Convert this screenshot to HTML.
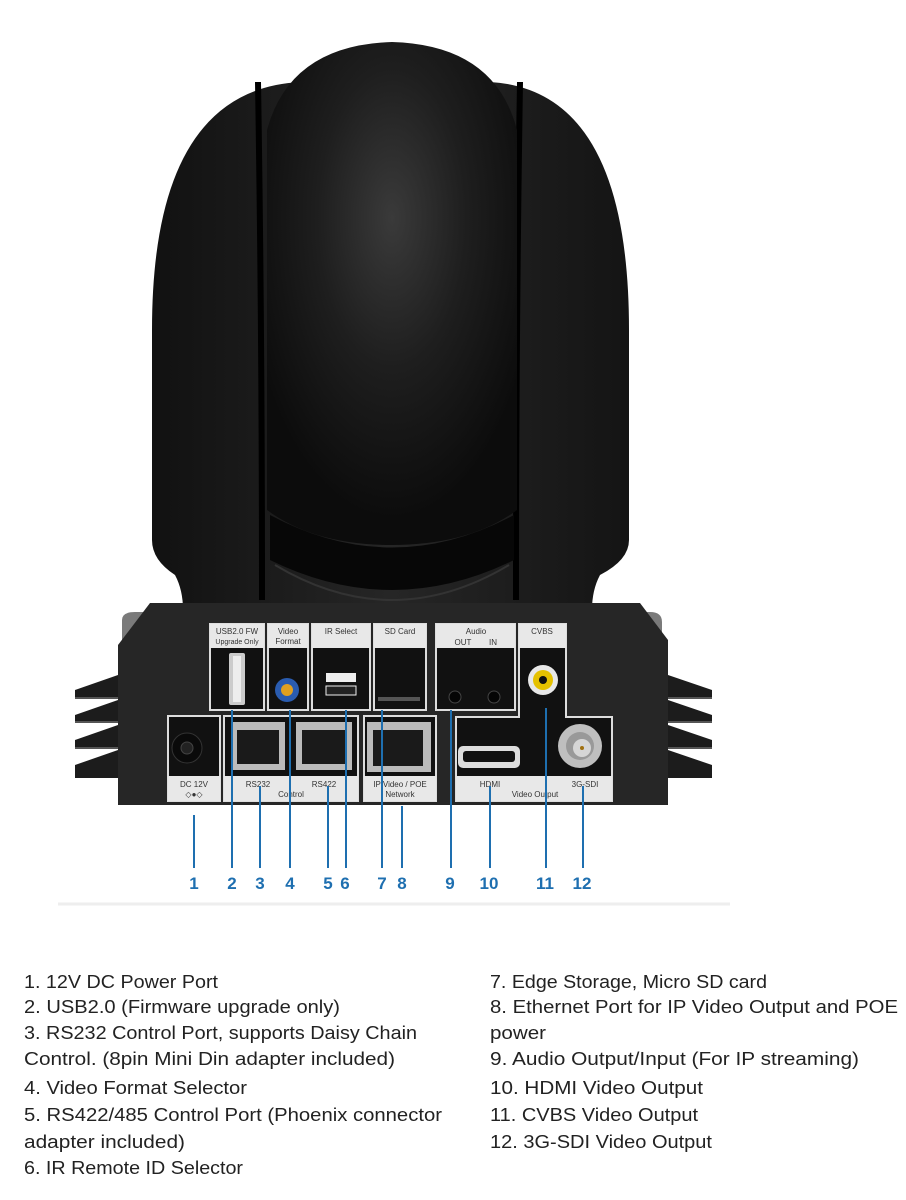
<!DOCTYPE html>
<html><head><meta charset="utf-8"><style>
html,body{margin:0;padding:0;background:#fff;width:906px;height:1200px;overflow:hidden}
svg{display:block}
.t{font-family:"Liberation Sans",sans-serif;font-size:18px;fill:#222}
.n{font-family:"Liberation Sans",sans-serif;font-size:17px;font-weight:bold;fill:#1e6fb0}
.l{font-family:"Liberation Sans",sans-serif;font-size:8px;fill:#333}
</style></head><body>
<svg width="906" height="1200" viewBox="0 0 906 1200">
<defs>
<radialGradient id="ball" cx="0.5" cy="0.35" r="0.6">
<stop offset="0" stop-color="#3a3a3a"/><stop offset="0.5" stop-color="#1e1e1e"/><stop offset="1" stop-color="#0c0c0c"/>
</radialGradient>
<linearGradient id="side" x1="0" x2="1" y1="0" y2="0">
<stop offset="0" stop-color="#111"/><stop offset="0.5" stop-color="#262626"/><stop offset="1" stop-color="#141414"/>
</linearGradient>
</defs>
<!-- camera body -->
<path d="M152 330 Q152 90 300 82 L490 82 Q629 90 629 330 L629 540 Q629 560 600 575 Q592 590 592 610 L183 610 Q183 590 175 575 Q152 560 152 540 Z" fill="url(#side)"/>
<!-- side arm grooves -->
<path d="M258 82 Q262 330 262 600" stroke="#000" stroke-width="6" fill="none"/>
<path d="M520 82 Q516 330 516 600" stroke="#000" stroke-width="6" fill="none"/>
<!-- center ball -->
<path d="M267 130 Q290 45 392 42 Q495 45 517 130 L517 510 Q470 545 392 545 Q314 545 267 510 Z" fill="url(#ball)"/>
<path d="M270 515 Q392 580 514 515 L514 560 Q392 620 270 560 Z" fill="#070707"/>
<path d="M275 565 Q392 635 509 565" stroke="#333" stroke-width="2" fill="none"/>
<!-- gray back layer -->
<path d="M122 670 L122 620 Q122 612 135 612 L180 612 L180 670 Z" fill="#7a7a7a"/>
<path d="M600 612 L650 612 Q662 612 662 622 L662 670 L600 670 Z" fill="#7a7a7a"/>
<!-- fins -->
<g fill="#1c1c1c">
<path d="M75 690 L118 675 L118 698 L75 698 Z"/><path d="M75 715 L118 700 L118 722 L75 722 Z"/>
<path d="M75 740 L118 725 L118 748 L75 748 Z"/><path d="M75 765 L118 750 L118 778 L75 778 Z"/>
<path d="M712 690 L668 675 L668 698 L712 698 Z"/><path d="M712 715 L668 700 L668 722 L712 722 Z"/>
<path d="M712 740 L668 725 L668 748 L712 748 Z"/><path d="M712 765 L668 750 L668 778 L712 778 Z"/>
</g>
<g stroke="#555" stroke-width="2"><line x1="75" y1="698" x2="118" y2="698"/><line x1="75" y1="722" x2="118" y2="722"/><line x1="75" y1="748" x2="118" y2="748"/>
<line x1="668" y1="698" x2="712" y2="698"/><line x1="668" y1="722" x2="712" y2="722"/><line x1="668" y1="748" x2="712" y2="748"/></g>
<!-- panel -->
<path d="M150 603 L640 603 L668 640 L668 805 L118 805 L118 645 Z" fill="#262626"/>
<!-- upper row boxes -->
<g fill="#111" stroke="#ddd" stroke-width="2">
<rect x="210" y="624" width="54" height="86"/><rect x="268" y="624" width="40" height="86"/>
<rect x="312" y="624" width="58" height="86"/><rect x="374" y="624" width="52" height="86"/>
<rect x="436" y="624" width="79" height="86"/>
<path d="M519 624 L566 624 L566 717 L612 717 L612 801 L456 801 L456 717 L519 717 Z"/>
<rect x="168" y="716" width="52" height="85"/><rect x="224" y="716" width="134" height="85"/>
<rect x="364" y="716" width="72" height="85"/>
</g>
<g fill="#e8e8e8">
<rect x="210" y="624" width="54" height="24"/><rect x="268" y="624" width="40" height="24"/>
<rect x="312" y="624" width="58" height="24"/><rect x="374" y="624" width="52" height="24"/>
<rect x="436" y="624" width="79" height="24"/><rect x="519" y="624" width="47" height="24"/>
<rect x="168" y="776" width="52" height="25"/><rect x="224" y="776" width="134" height="25"/>
<rect x="364" y="776" width="72" height="25"/><rect x="456" y="776" width="156" height="25"/>
</g>
<g class="l" text-anchor="middle">
<text x="237" y="634">USB2.0 FW</text><text x="237" y="644" font-size="7">Upgrade Only</text>
<text x="288" y="634">Video</text><text x="288" y="644">Format</text>
<text x="341" y="634">IR Select</text><text x="400" y="634">SD Card</text>
<text x="476" y="634">Audio</text><text x="463" y="645">OUT</text><text x="493" y="645">IN</text>
<text x="542" y="634">CVBS</text>
<text x="194" y="787">DC 12V</text><text x="194" y="797">◇●◇</text>
<text x="258" y="787">RS232</text><text x="324" y="787">RS422</text><text x="291" y="797">Control</text>
<text x="400" y="787">IP Video / POE</text><text x="400" y="797">Network</text>
<text x="490" y="787">HDMI</text><text x="585" y="787">3G-SDI</text><text x="535" y="797">Video Output</text>
</g>
<!-- ports -->
<rect x="229" y="653" width="16" height="52" fill="#ccc" rx="2"/><rect x="233" y="656" width="8" height="46" fill="#eee"/>
<circle cx="287" cy="690" r="12" fill="#2a5cb0"/><circle cx="287" cy="690" r="6" fill="#e0a020"/>
<rect x="326" y="673" width="30" height="9" fill="#eee"/><rect x="326" y="686" width="30" height="9" fill="#222" stroke="#eee"/>
<rect x="378" y="697" width="42" height="4" fill="#555"/>
<circle cx="455" cy="697" r="6" fill="#050505" stroke="#444"/><circle cx="494" cy="697" r="6" fill="#050505" stroke="#444"/>
<circle cx="543" cy="680" r="15" fill="#e8e8e8"/><circle cx="543" cy="680" r="10" fill="#e5c100"/><circle cx="543" cy="680" r="4" fill="#111"/>
<circle cx="187" cy="748" r="15" fill="#0a0a0a" stroke="#333"/><circle cx="187" cy="748" r="6" fill="#222" stroke="#444"/>
<rect x="231" y="722" width="54" height="48" fill="#bbb"/><rect x="237" y="730" width="42" height="34" fill="#1a1a1a"/>
<rect x="296" y="722" width="56" height="48" fill="#bbb"/><rect x="302" y="730" width="44" height="34" fill="#1a1a1a"/>
<rect x="367" y="722" width="64" height="50" fill="#bbb"/><rect x="373" y="730" width="50" height="36" fill="#1a1a1a"/>
<rect x="458" y="746" width="62" height="22" rx="5" fill="#ddd"/><rect x="463" y="751" width="52" height="11" rx="3" fill="#111"/>
<circle cx="580" cy="746" r="22" fill="#bfbfbf"/><circle cx="580" cy="746" r="14" fill="#999"/><circle cx="582" cy="748" r="9" fill="#d6d6d6"/><circle cx="582" cy="748" r="2" fill="#a07010"/>
<!-- callout lines -->
<g stroke="#1e6fb0" stroke-width="2">
<line x1="194" y1="815" x2="194" y2="868"/><line x1="232" y1="710" x2="232" y2="868"/>
<line x1="260" y1="786" x2="260" y2="868"/><line x1="290" y1="710" x2="290" y2="868"/>
<line x1="328" y1="786" x2="328" y2="868"/><line x1="346" y1="710" x2="346" y2="868"/>
<line x1="382" y1="710" x2="382" y2="868"/><line x1="402" y1="806" x2="402" y2="868"/>
<line x1="451" y1="710" x2="451" y2="868"/><line x1="490" y1="786" x2="490" y2="868"/>
<line x1="546" y1="708" x2="546" y2="868"/><line x1="583" y1="786" x2="583" y2="868"/>
</g>
<g class="n" text-anchor="middle">
<text x="194" y="889">1</text><text x="232" y="889">2</text><text x="260" y="889">3</text><text x="290" y="889">4</text>
<text x="328" y="889">5</text><text x="345" y="889">6</text><text x="382" y="889">7</text><text x="402" y="889">8</text>
<text x="450" y="889">9</text><text x="489" y="889">10</text><text x="545" y="889">11</text><text x="582" y="889">12</text>
</g>
<line x1="58" y1="904" x2="730" y2="904" stroke="#eee" stroke-width="3"/>
<!-- list -->
<g class="t" lengthAdjust="spacingAndGlyphs">
<text x="24" y="988" textLength="194" lengthAdjust="spacingAndGlyphs">1. 12V DC Power Port</text>
<text x="24" y="1013" textLength="316" lengthAdjust="spacingAndGlyphs">2. USB2.0 (Firmware upgrade only)</text>
<text x="24" y="1039" textLength="393" lengthAdjust="spacingAndGlyphs">3. RS232 Control Port, supports Daisy Chain</text>
<text x="24" y="1065" textLength="371" lengthAdjust="spacingAndGlyphs">Control. (8pin Mini Din adapter included)</text>
<text x="24" y="1094" textLength="223" lengthAdjust="spacingAndGlyphs">4. Video Format Selector</text>
<text x="24" y="1121" textLength="418" lengthAdjust="spacingAndGlyphs">5. RS422/485 Control Port (Phoenix connector</text>
<text x="24" y="1148" textLength="161" lengthAdjust="spacingAndGlyphs">adapter included)</text>
<text x="24" y="1174" textLength="219" lengthAdjust="spacingAndGlyphs">6. IR Remote ID Selector</text>
<text x="490" y="988" textLength="277" lengthAdjust="spacingAndGlyphs">7. Edge Storage, Micro SD card</text>
<text x="490" y="1013" textLength="408" lengthAdjust="spacingAndGlyphs">8. Ethernet Port for IP Video Output and POE</text>
<text x="490" y="1039" textLength="56" lengthAdjust="spacingAndGlyphs">power</text>
<text x="490" y="1065" textLength="369" lengthAdjust="spacingAndGlyphs">9. Audio Output/Input (For IP streaming)</text>
<text x="490" y="1094" textLength="213" lengthAdjust="spacingAndGlyphs">10. HDMI Video Output</text>
<text x="490" y="1121" textLength="208" lengthAdjust="spacingAndGlyphs">11. CVBS Video Output</text>
<text x="490" y="1148" textLength="222" lengthAdjust="spacingAndGlyphs">12. 3G-SDI Video Output</text>
</g>
</svg>
</body></html>
